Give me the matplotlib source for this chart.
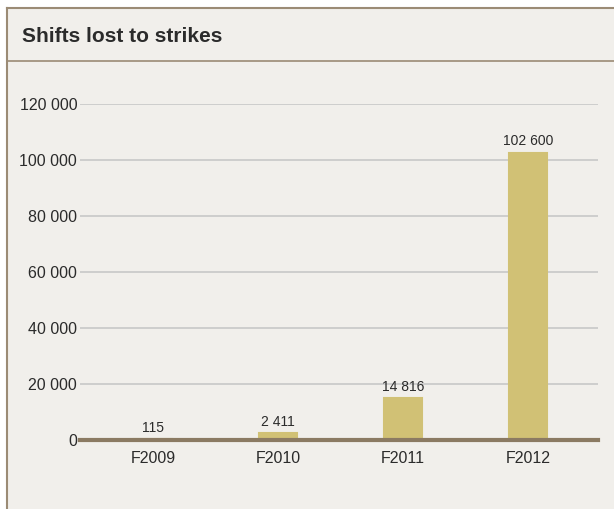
import matplotlib
matplotlib.use("Agg")
import matplotlib.pyplot as plt
from matplotlib.lines import Line2D

categories = ["F2009", "F2010", "F2011", "F2012"]
shifts_lost = [115, 2411, 14816, 102600]
bar_labels = ["115", "2 411", "14 816", "102 600"]
y_ticks = [0, 20000, 40000, 60000, 80000, 100000, 120000]
y_tick_labels = ["0", "20 000", "40 000", "60 000", "80 000", "100 000", "120 000"]

bg = "#f1efeb"
bar_col = "#d1c175"
base_col = "#8b7a62"
frame_col = "#9b8b75"
grid_col = "#c4c4c4"
txt_col = "#2b2b2b"

plt.rcParams["font.family"] = ["Liberation Sans", "DejaVu Sans"]

W, H = 614, 509
fig = plt.figure(figsize=(W / 100, H / 100), dpi=100)
fig.patch.set_facecolor("white")

# panel frame: left + top border, title band separator
fig.patches.append(plt.Rectangle((7 / W, 0), 1, 1 - 8 / H, transform=fig.transFigure,
                                 facecolor=bg, edgecolor="none", zorder=-10))
fig.lines.append(Line2D([7 / W, 7 / W], [0, 1 - 8 / H], transform=fig.transFigure,
                        color=frame_col, lw=1.5, zorder=-5))
fig.lines.append(Line2D([7 / W, 1], [1 - 8 / H, 1 - 8 / H], transform=fig.transFigure,
                        color=frame_col, lw=1.5, zorder=-5))
fig.lines.append(Line2D([7 / W, 1], [1 - 61 / H, 1 - 61 / H], transform=fig.transFigure,
                        color=frame_col, lw=1.2, zorder=-5))
fig.text(22 / W, 1 - 36 / H, "Shifts lost to strikes", fontsize=15, fontweight="bold",
         color=txt_col, va="center", ha="left")

# axes: x 80..598 px, y0 at 439.5, 120000 at 104
y_top_px = 104
y0_px = 439.5
ax = fig.add_axes([80 / W, 1 - y0_px / H, (598 - 80) / W, (y0_px - y_top_px) / H])
ax.set_facecolor("none")
ax.set_ylim(0, 120000)
ax.set_xlim(-0.584, 3.56)

x = range(len(categories))
ax.bar(x, shifts_lost, width=0.305, color=bar_col, edgecolor=bar_col, lw=1.5, zorder=2)
for xi, v, lab in zip(x, shifts_lost, bar_labels):
    ax.annotate(lab, (xi, v), xytext=(0, 3), textcoords="offset points",
                ha="center", va="bottom", fontsize=10, color=txt_col)

ax.axhline(0, color=base_col, lw=3.0, zorder=3, clip_on=False)
ax.set_yticks(y_ticks)
ax.set_yticklabels(y_tick_labels)
ax.set_xticks(list(x))
ax.set_xticklabels(categories)
ax.grid(axis="y", color=grid_col, lw=1.1, zorder=1)
ax.tick_params(axis="both", length=0, labelsize=11.5, colors=txt_col)
ax.tick_params(axis="y", pad=2)
ax.tick_params(axis="x", pad=8)
for s in ax.spines.values():
    s.set_visible(False)

fig.savefig("out.png", dpi=100, facecolor=fig.get_facecolor())
